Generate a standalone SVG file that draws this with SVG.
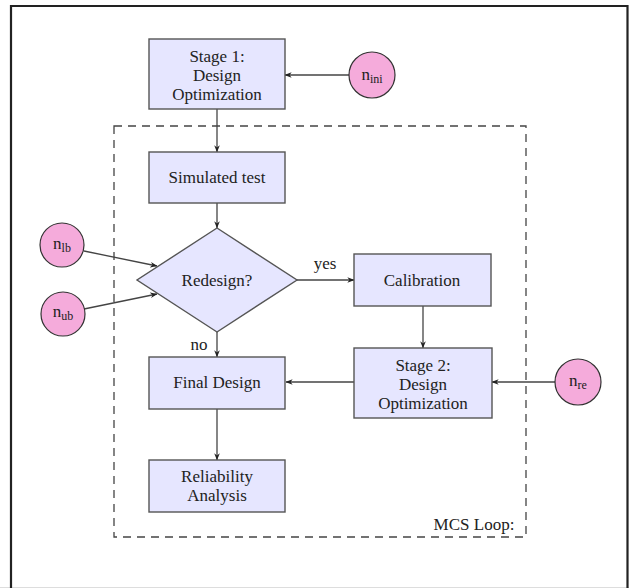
<svg xmlns="http://www.w3.org/2000/svg" width="629" height="588" viewBox="0 0 629 588">
<defs>
<marker id="ah" viewBox="0 0 10 10" refX="9.5" refY="5" markerWidth="7" markerHeight="7" markerUnits="userSpaceOnUse" orient="auto">
<path d="M0,1 L10,5 L0,9 L3,5 Z" fill="#222"/>
</marker>
</defs>
<style>
.box{fill:#E6E6FF;stroke:#555;stroke-width:1.4}
.cir{fill:#F5ABDB;stroke:#333;stroke-width:1.2}
text{font-family:'Liberation Serif','Times New Roman','DejaVu Serif',serif;font-size:17px;fill:#222;text-anchor:middle}
.sub{font-size:12px}
.ln{fill:none;stroke:#444;stroke-width:1.3;marker-end:url(#ah)}
</style>
<rect width="629" height="588" fill="#fff"/>
<line x1="0" y1="587.5" x2="629" y2="587.5" stroke="#ddd" stroke-width="1"/>
<path d="M11,588 V6 H627.5 V588" fill="none" stroke="#222" stroke-width="2.2"/>
<rect x="114" y="126" width="412" height="411" fill="none" stroke="#444" stroke-width="1.3" stroke-dasharray="8,6"/>
<text x="474" y="530">MCS Loop:</text>

<g id="connectors">
<line class="ln" x1="217" y1="109" x2="217" y2="152"/>
<line class="ln" x1="349" y1="75" x2="285" y2="75"/>
<line class="ln" x1="217" y1="203" x2="217" y2="228"/>
<line class="ln" x1="84" y1="251" x2="157" y2="266"/>
<line class="ln" x1="84" y1="309" x2="157" y2="294"/>
<line class="ln" x1="297" y1="280" x2="354" y2="280"/>
<line class="ln" x1="423" y1="306" x2="423" y2="348"/>
<line class="ln" x1="555" y1="382" x2="492" y2="382"/>
<line class="ln" x1="354" y1="382" x2="286" y2="382"/>
<line class="ln" x1="217" y1="332" x2="217" y2="357"/>
<line class="ln" x1="217" y1="409" x2="217" y2="460"/>
<text x="325" y="269">yes</text>
<text x="199" y="350">no</text>
</g>

<g id="stage1">
<rect class="box" x="149" y="39" width="136" height="70"/>
<text x="217" y="62">Stage 1:</text>
<text x="217" y="81">Design</text>
<text x="217" y="100">Optimization</text>
</g>
<g id="nini">
<circle class="cir" cx="372" cy="75" r="23"/>
<text x="372" y="80">n<tspan class="sub" dy="3">ini</tspan></text>
</g>
<g id="simtest">
<rect class="box" x="149" y="152" width="136" height="51"/>
<text x="217" y="183">Simulated test</text>
</g>
<g id="redesign">
<polygon class="box" points="217,228 297,280 217,332 137,280"/>
<text x="217" y="286">Redesign?</text>
</g>
<g id="nlb">
<circle class="cir" cx="62" cy="245" r="22"/>
<text x="62" y="249">n<tspan class="sub" dy="3">lb</tspan></text>
</g>
<g id="nub">
<circle class="cir" cx="63" cy="314" r="22"/>
<text x="63" y="317">n<tspan class="sub" dy="3">ub</tspan></text>
</g>
<g id="calibration">
<rect class="box" x="354" y="254" width="137" height="52"/>
<text x="422" y="286">Calibration</text>
</g>
<g id="stage2">
<rect class="box" x="354" y="348" width="138" height="70"/>
<text x="423" y="371">Stage 2:</text>
<text x="423" y="390">Design</text>
<text x="423" y="409">Optimization</text>
</g>
<g id="nre">
<circle class="cir" cx="578" cy="382" r="23"/>
<text x="578" y="386">n<tspan class="sub" dy="3">re</tspan></text>
</g>
<g id="final">
<rect class="box" x="149" y="357" width="136" height="52"/>
<text x="217" y="388">Final Design</text>
</g>
<g id="reliability">
<rect class="box" x="149" y="460" width="136" height="52"/>
<text x="217" y="482">Reliability</text>
<text x="217" y="501">Analysis</text>
</g>
</svg>
